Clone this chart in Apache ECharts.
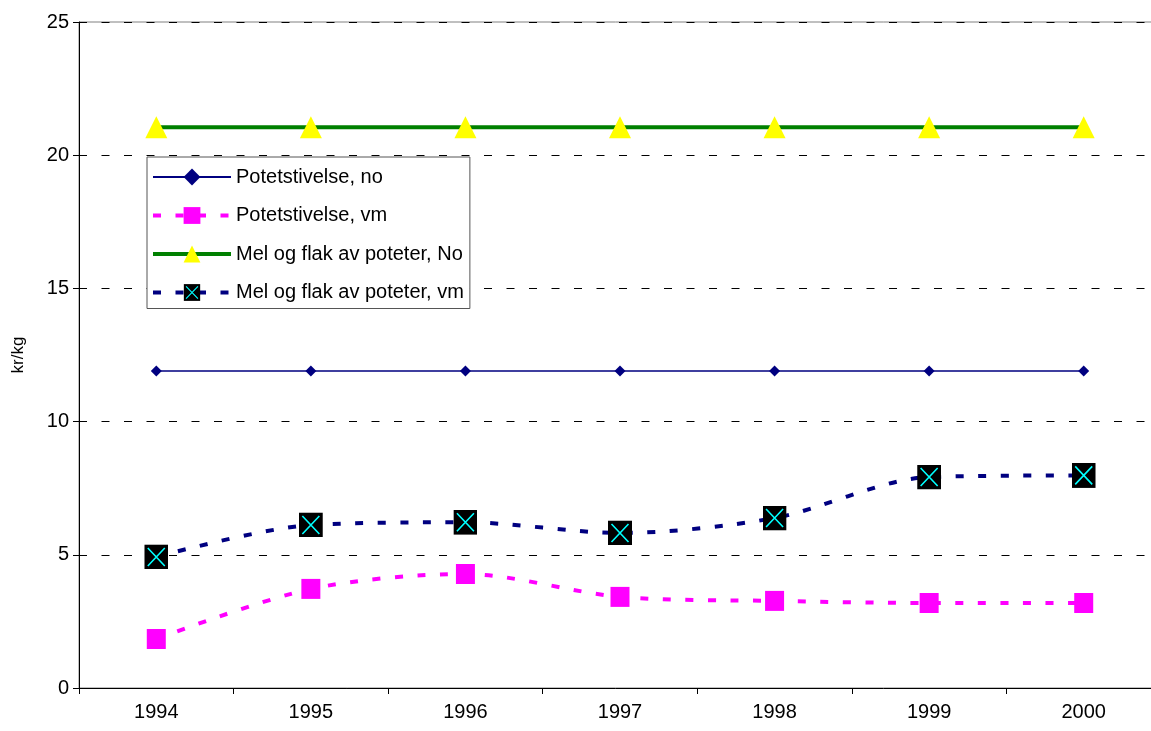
<!DOCTYPE html>
<html><head><meta charset="utf-8">
<script src="https://cdn.jsdelivr.net/npm/echarts@6/dist/echarts.min.js"></script>
<style>html,body{margin:0;padding:0;background:#fff;overflow:hidden}#c{width:1151px;height:731px}</style>
</head><body><div id="c"></div>
<script>
const categories = ['1994','1995','1996','1997','1998','1999','2000'];
const potetNo = [11.9, 11.9, 11.9, 11.9, 11.9, 11.9, 11.9];
const potetVm = [1.84, 3.72, 4.28, 3.42, 3.27, 3.19, 3.19];
const melNo = [21.05, 21.05, 21.05, 21.05, 21.05, 21.05, 21.05];
const melVm = [4.92, 6.12, 6.22, 5.82, 6.38, 7.92, 7.98];
const seriesNames = ['Potetstivelse, no','Potetstivelse, vm','Mel og flak av poteter, No','Mel og flak av poteter, vm'];

const xSvg = '<svg xmlns="http://www.w3.org/2000/svg" width="24" height="25" viewBox="0 0 24 25"><rect x="0" y="0" width="24" height="25" fill="#000"/><path d="M3.5 3.5 L20.5 21.5 M20.5 3.5 L3.5 21.5" stroke="#00ffff" stroke-width="1.6"/></svg>';
const xSym = 'image://data:image/svg+xml;utf8,' + encodeURIComponent(xSvg);

const font = 'Liberation Sans, Arial, sans-serif';
const chart = echarts.init(document.getElementById('c'), null, {renderer:'canvas'});
chart.setOption({
  animation:false,
  backgroundColor:'#fff',
  grid:{left:79, width:1082, top:22, bottom:43, outerBoundsMode:'none', containLabel:false,
        show:true, borderColor:'#808080', borderWidth:1},
  legend:{
    orient:'vertical', left:147, top:157,
    backgroundColor:'#fff', borderColor:'#555', borderWidth:1,
    padding:[10,6,6,4], itemGap:18.5, itemWidth:78, itemHeight:21,
    textStyle:{fontFamily:font, fontSize:20, color:'#000'},
    data:[
      {name:seriesNames[0]},
      {name:seriesNames[1], lineStyle:{width:4}},
      {name:seriesNames[2], lineStyle:{width:4}},
      {name:seriesNames[3], lineStyle:{width:4}}
    ]
  },
  xAxis:{
    type:'category', data:categories, boundaryGap:true,
    axisLine:{lineStyle:{color:'#000', width:1}},
    axisTick:{show:true, length:6, lineStyle:{color:'#000'}},
    axisLabel:{fontFamily:font, fontSize:20, color:'#000', margin:14},
    splitLine:{show:false}
  },
  yAxis:{
    type:'value', min:0, max:25, interval:5,
    name:'kr/kg', nameLocation:'middle', nameGap:52, nameRotate:90,
    nameTextStyle:{fontFamily:font, fontSize:17, color:'#000'},
    axisLine:{show:true, lineStyle:{color:'#000', width:1}},
    axisTick:{show:true, length:6, lineStyle:{color:'#000'}},
    axisLabel:{fontFamily:font, fontSize:20, color:'#000', margin:10},
    splitLine:{show:true, lineStyle:{color:'#000', type:[8,14.5], width:1}}
  },
  series:[
    {name:seriesNames[0], type:'line', data:potetNo, symbol:'diamond', symbolSize:11,
     itemStyle:{color:'#000080'}, lineStyle:{color:'#000080', width:1.5}},
    {name:seriesNames[1], type:'line', data:potetVm, smooth:0.3, symbol:'rect', symbolSize:[19,20],
     itemStyle:{color:'#ff00ff'}, lineStyle:{color:'#ff00ff', width:4, type:[8,14.5]}},
    {name:seriesNames[2], type:'line', data:melNo, symbol:'triangle', symbolSize:22,
     itemStyle:{color:'#ffff00'}, lineStyle:{color:'#008000', width:4}},
    {name:seriesNames[3], type:'line', data:melVm, smooth:0.3, symbol:xSym, symbolSize:[24,25],
     itemStyle:{color:'#000080'}, lineStyle:{color:'#000080', width:4, type:[8,14.5]}}
  ]
});
</script></body></html>
